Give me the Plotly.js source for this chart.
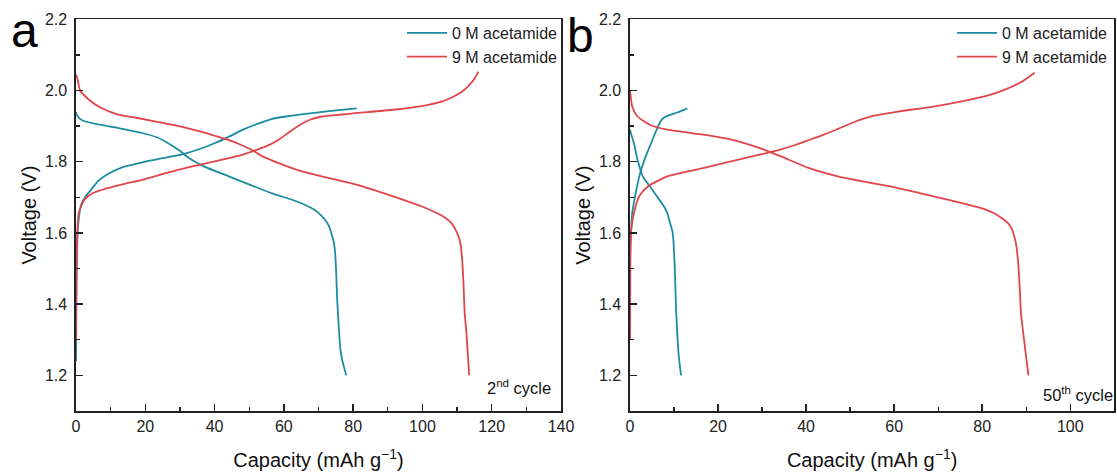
<!DOCTYPE html>
<html>
<head>
<meta charset="utf-8">
<script src="https://cdn.plot.ly/plotly-3.0.1.min.js"></script>
<style>html,body{margin:0;padding:0;background:#fff;}#chart{width:1117px;height:475px;}</style>
</head>
<body>
<div id="chart"></div>
<script>
// ---- Panel a : 2nd cycle ----
const a_cap_0M_charge = [0, 0.1, 0.3, 0.7, 1.5, 2.8, 4.4, 6.5, 9.1, 13.5, 19.4, 25, 30.7, 35.5, 40, 44.5, 48.2, 52.5, 56.4, 60.5, 65.7, 73, 81];
const a_v_0M_charge   = [1.24, 1.40, 1.55, 1.63, 1.68, 1.703, 1.722, 1.747, 1.765, 1.785, 1.799, 1.81, 1.821, 1.835, 1.852, 1.872, 1.89, 1.907, 1.92, 1.927, 1.934, 1.942, 1.95];
const a_cap_0M_dis = [0, 0.3, 2, 7, 13, 19.4, 23.5, 26.6, 29.8, 32.7, 36.9, 44.1, 50.3, 56.4, 63.6, 66.5, 68.8, 70.6, 71.9, 73, 73.7, 74.4, 74.8, 75.1, 75.4, 75.9, 76.3, 76.8, 78];
const a_v_0M_dis   = [1.94, 1.93, 1.915, 1.904, 1.893, 1.88, 1.868, 1.852, 1.832, 1.81, 1.787, 1.759, 1.735, 1.712, 1.689, 1.677, 1.665, 1.651, 1.637, 1.62, 1.6, 1.575, 1.545, 1.49, 1.41, 1.33, 1.275, 1.245, 1.2];
const a_cap_9M_dis = [0, 0.5, 1.2, 4, 6.9, 11.7, 16.5, 22, 27.6, 35.8, 40, 45, 48.2, 51, 53.3, 58.5, 63.6, 70.9, 81.2, 91.5, 99.7, 103.5, 105.9, 107.8, 109, 110, 110.6, 111.1, 111.5, 111.8, 112.2, 112.7, 113.1, 113.5];
const a_v_9M_dis   = [2.045, 2.03, 2.0, 1.972, 1.953, 1.934, 1.925, 1.915, 1.904, 1.885, 1.873, 1.858, 1.845, 1.832, 1.818, 1.796, 1.778, 1.759, 1.735, 1.703, 1.675, 1.659, 1.647, 1.633, 1.619, 1.6, 1.585, 1.562, 1.52, 1.469, 1.375, 1.32, 1.26, 1.2];
const a_cap_9M_charge = [0, 0.1, 0.3, 0.8, 2.4, 4.9, 9.1, 14, 19.4, 24.5, 29.7, 35, 40, 44.5, 48.2, 52.3, 55.5, 58.5, 61.5, 64.7, 67.5, 70.9, 76, 81.2, 91.5, 101.7, 106, 109, 111.3, 113.1, 114.8, 116.2];
const a_v_9M_charge   = [1.3, 1.45, 1.58, 1.656, 1.693, 1.712, 1.726, 1.738, 1.75, 1.764, 1.778, 1.79, 1.801, 1.811, 1.82, 1.834, 1.846, 1.862, 1.883, 1.904, 1.918, 1.927, 1.932, 1.937, 1.946, 1.96, 1.97, 1.983, 1.996, 2.011, 2.03, 2.053];

// ---- Panel b : 50th cycle ----
const b_cap_0M_charge = [0, 0.1, 0.24, 0.5, 1.3, 2.3, 3.3, 4.5, 5.7, 6.9, 7.6, 8.5, 10.9, 13.0];
const b_v_0M_charge   = [1.5, 1.56, 1.6, 1.656, 1.712, 1.768, 1.806, 1.843, 1.88, 1.913, 1.923, 1.929, 1.939, 1.95];
const b_cap_0M_dis = [0, 0.4, 0.9, 1.7, 2.9, 4.5, 6.1, 7.7, 8.5, 8.9, 9.4, 9.7, 9.95, 10.2, 10.5, 10.9, 11.2, 11.6];
const b_v_0M_dis   = [1.89, 1.872, 1.852, 1.806, 1.759, 1.731, 1.703, 1.675, 1.655, 1.637, 1.615, 1.6, 1.56, 1.49, 1.376, 1.282, 1.24, 1.2];
const b_cap_9M_dis = [0, 0.1, 0.5, 1.7, 4.5, 8.5, 16.6, 23, 29.5, 34.3, 40.7, 47.2, 52.8, 60.9, 68.9, 77, 80.5, 82.6, 84.4, 85.8, 86.7, 87.3, 87.8, 88.2, 88.5, 88.8, 89.4, 90.0, 90.5];
const b_v_9M_dis   = [2.0, 1.99, 1.955, 1.927, 1.904, 1.89, 1.876, 1.862, 1.838, 1.815, 1.782, 1.759, 1.745, 1.726, 1.703, 1.679, 1.667, 1.656, 1.642, 1.628, 1.612, 1.59, 1.56, 1.51, 1.45, 1.376, 1.31, 1.25, 1.2];
const b_cap_9M_charge = [0, 0.05, 0.2, 0.9, 2.1, 4.1, 8.5, 16.6, 24.6, 29.5, 34.3, 37.5, 40.7, 44, 47.2, 51.2, 55.2, 60.9, 68.9, 77, 81.5, 85, 89, 91.9];
const b_v_9M_charge   = [1.3, 1.48, 1.6, 1.656, 1.703, 1.731, 1.759, 1.782, 1.806, 1.82, 1.835, 1.847, 1.861, 1.876, 1.892, 1.913, 1.929, 1.941, 1.955, 1.974, 1.987, 2.002, 2.025, 2.05];

const seriesNames = ["0 M acetamide", "9 M acetamide"];
const panelLabels = ["a", "b"];
const cycleLabels = ["2<sup>nd</sup> cycle", "50<sup>th</sup> cycle"];

const TEAL = "#1c8ca2", RED = "#e0454a";
const FONT = "Arial, 'Liberation Sans', sans-serif";

function tr(x, y, color, name, show, xa, ya, leg) {
  return {x: x, y: y, type: "scatter", mode: "lines", name: name, showlegend: show,
    legend: leg, xaxis: xa, yaxis: ya,
    line: {color: color, width: 1.8, shape: "spline", smoothing: 0.6}, hoverinfo: "skip"};
}

const data = [
  tr(a_cap_0M_charge, a_v_0M_charge, TEAL, seriesNames[0], true, "x", "y", "legend"),
  tr(a_cap_0M_dis, a_v_0M_dis, TEAL, seriesNames[0], false, "x", "y", "legend"),
  tr(a_cap_9M_charge, a_v_9M_charge, RED, seriesNames[1], true, "x", "y", "legend"),
  tr(a_cap_9M_dis, a_v_9M_dis, RED, seriesNames[1], false, "x", "y", "legend"),
  tr(b_cap_0M_charge, b_v_0M_charge, TEAL, seriesNames[0], true, "x2", "y2", "legend2"),
  tr(b_cap_0M_dis, b_v_0M_dis, TEAL, seriesNames[0], false, "x2", "y2", "legend2"),
  tr(b_cap_9M_charge, b_v_9M_charge, RED, seriesNames[1], true, "x2", "y2", "legend2"),
  tr(b_cap_9M_dis, b_v_9M_dis, RED, seriesNames[1], false, "x2", "y2", "legend2")
];

const W = 1117, H = 475;
function xAxis(domain, range, anchor) {
  return {domain: domain, range: range, anchor: anchor, dtick: 20, tick0: 0,
    ticks: "inside", ticklen: 7, tickwidth: 1.5, tickcolor: "#222",
    showline: true, linecolor: "#222", linewidth: 1.6, mirror: true,
    showgrid: false, zeroline: false,
    minor: {dtick: 10, ticks: "inside", ticklen: 4, tickwidth: 1.3, tickcolor: "#222", showgrid: false},
    tickfont: {family: FONT, size: 16, color: "#222"},
    title: {text: "Capacity (mAh g<sup>−1</sup>)", font: {family: FONT, size: 20, color: "#111"}, standoff: 19}};
}
function yAxis(anchor) {
  return {domain: [1 - 411 / H, 1 - 19.3 / H], range: [1.1, 2.2], anchor: anchor, dtick: 0.2, tick0: 1.2,
    tickformat: ".1f",
    ticks: "inside", ticklen: 7, tickwidth: 1.5, tickcolor: "#222",
    showline: true, linecolor: "#222", linewidth: 1.6, mirror: true,
    showgrid: false, zeroline: false,
    minor: {dtick: 0.1, ticks: "inside", ticklen: 4, tickwidth: 1.3, tickcolor: "#222", showgrid: false},
    tickfont: {family: FONT, size: 16, color: "#222"},
    ticklabelstandoff: 4,
    title: {text: "Voltage (V)", font: {family: FONT, size: 20, color: "#111"}, standoff: 3}};
}

const legendBase = {font: {family: FONT, size: 16, color: "#222"}, bgcolor: "rgba(0,0,0,0)",
  borderwidth: 0, xanchor: "right", yanchor: "top", tracegroupgap: 0, itemwidth: 40};

const layout = {
  width: W, height: H, margin: {l: 0, r: 0, t: 0, b: 0},
  paper_bgcolor: "#fff", plot_bgcolor: "#fff",
  xaxis: xAxis([76 / W, 561 / W], [0, 140], "y"),
  yaxis: yAxis("x"),
  xaxis2: xAxis([630 / W, 1114.3 / W], [0, 110], "y2"),
  yaxis2: yAxis("x2"),
  legend: Object.assign({}, legendBase, {x: 563 / W, y: 1 - 16 / H}),
  legend2: Object.assign({}, legendBase, {x: 1113 / W, y: 1 - 16 / H}),
  annotations: [
    {text: panelLabels[0], xref: "paper", yref: "paper", x: 24 / W, y: 1 - 47 / H, xanchor: "center", yanchor: "bottom",
      showarrow: false, font: {family: FONT, size: 48, color: "#000"}, yshift: -12},
    {text: panelLabels[1], xref: "paper", yref: "paper", x: 580 / W, y: 1 - 52 / H, xanchor: "center", yanchor: "bottom",
      showarrow: false, font: {family: FONT, size: 48, color: "#000"}, yshift: -12},
    {text: cycleLabels[0], xref: "paper", yref: "paper", x: 553 / W, y: 1 - 399 / H, xanchor: "right", yanchor: "bottom",
      showarrow: false, font: {family: FONT, size: 16.5, color: "#111"}},
    {text: cycleLabels[1], xref: "paper", yref: "paper", x: 1115 / W, y: 1 - 406 / H, xanchor: "right", yanchor: "bottom",
      showarrow: false, font: {family: FONT, size: 16.5, color: "#111"}}
  ]
};

Plotly.newPlot("chart", data, layout, {staticPlot: true, displayModeBar: false});
</script>
</body>
</html>
